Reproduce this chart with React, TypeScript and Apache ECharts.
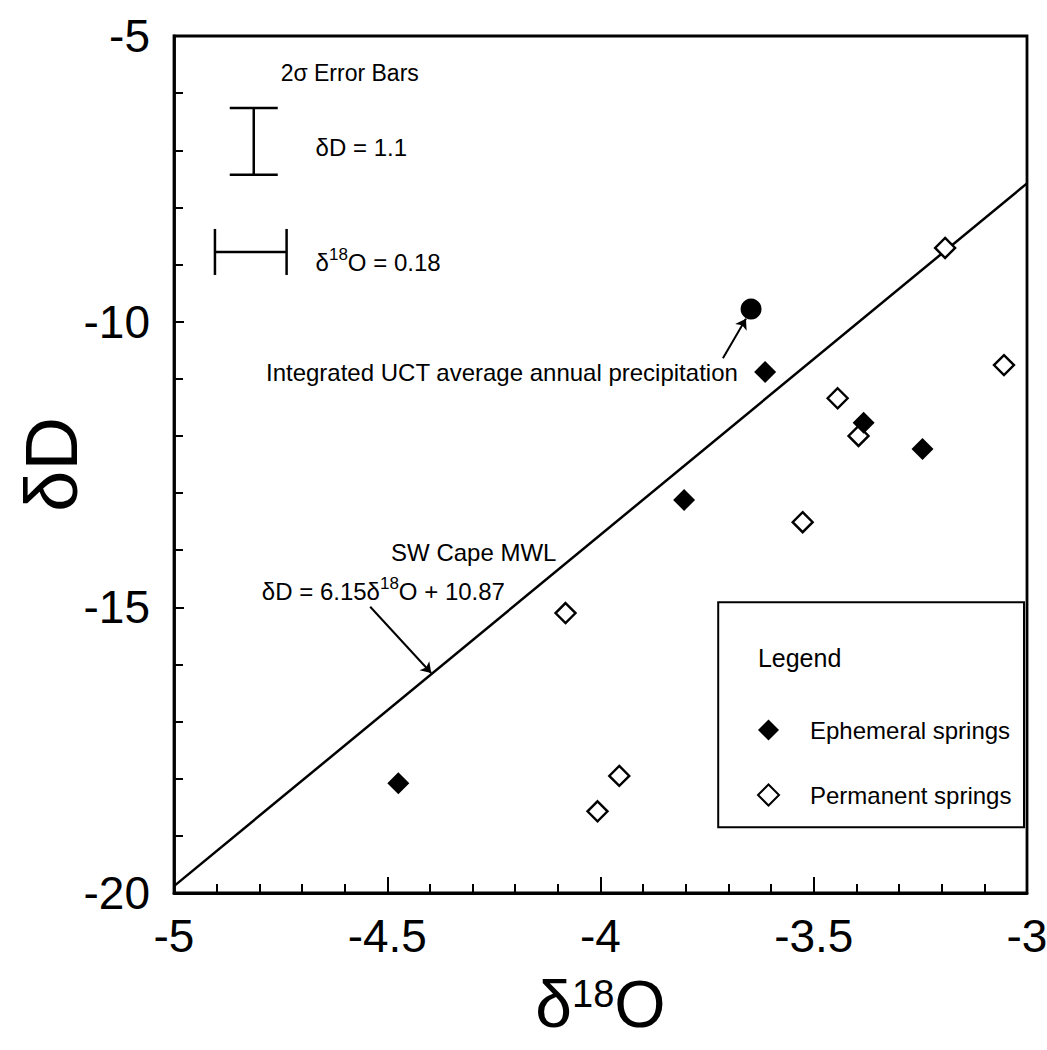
import React, { useEffect, useRef } from "react";
import * as echarts from "echarts";

// ---- data ----
const ephemeralSprings: number[][] = [
  [-3.614, -10.88],
  [-3.383, -11.77],
  [-3.245, -12.23],
  [-3.804, -13.12],
  [-4.474, -18.08],
];
const permanentSprings: number[][] = [
  [-3.192, -8.71],
  [-3.054, -10.76],
  [-3.444, -11.34],
  [-3.395, -12.0],
  [-3.526, -13.51],
  [-4.082, -15.1],
  [-3.956, -17.95],
  [-4.007, -18.57],
];
const precipitation: number[][] = [[-3.647, -9.78]];
// SW Cape MWL: dD = 6.15 d18O + 10.87, end points at the axis limits
const mwlLine: number[][] = [
  [-5, -19.88],
  [-3, -7.58],
];
// error bars: [x, y, half-width in x, half-height in y]
const errorBars: number[][] = [
  [-4.813, -6.845, 0, 0.585],
  [-4.82, -8.78, 0.084, 0],
];
const arrowLines: number[][][] = [
  [[-4.54, -14.99], [-4.397, -16.15]],
  [[-3.713, -10.64], [-3.659, -9.95]],
];
const xTicks = { min: -5, max: -3, interval: 0.5 };
const yTicks = { min: -20, max: -5, interval: 5 };

const FONT = "'Liberation Sans', Arial, Helvetica, sans-serif";

type Ann = { text: string; x: number; y: number; align: string; size: number };
const annotations: Ann[] = [
  { text: "{n|2σ Error Bars}", x: -4.75, y: -5.648, align: "left", size: 23 },
  { text: "{n|δD = 1.1}", x: -4.668, y: -6.96, align: "left", size: 24 },
  { text: "{n|δ}{s|18}{n|O = 0.18}", x: -4.668, y: -8.921, align: "left", size: 24 },
  { text: "{n|Integrated UCT average annual precipitation}", x: -3.678, y: -10.881, align: "right", size: 24 },
  { text: "{n|SW Cape MWL}", x: -4.491, y: -14.032, align: "left", size: 24 },
  { text: "{n|δD = 6.15δ}{s|18}{n|O + 10.87}", x: -4.794, y: -14.68, align: "left", size: 24 },
  { text: "{n|Legend}", x: -3.631, y: -15.887, align: "left", size: 25 },
];
const legendBox = { x0: -3.724, y0: -14.91, x1: -3.007, y1: -18.85 };

export default function App() {
  const ref = useRef<HTMLDivElement>(null);
  useEffect(() => {
    document.body.style.margin = "0";
    if (!ref.current) return;
    const chart = echarts.init(ref.current, null, { renderer: "svg" });
    const option: any = {
      animation: false,
      backgroundColor: "#fff",
      textStyle: { fontFamily: FONT, color: "#000" },
      grid: {
        left: 174,
        right: 20,
        top: 36,
        bottom: 157,
        containLabel: false,
        outerBoundsMode: "none",
        show: true,
        borderColor: "#000",
        borderWidth: 2.8,
        backgroundColor: "transparent",
      },
      legend: {
        orient: "vertical",
        left: 752,
        top: 713,
        itemWidth: 21,
        itemHeight: 21,
        itemGap: 41,
        data: ["Ephemeral springs", "Permanent springs"],
        textStyle: { fontSize: 24, fontFamily: FONT, color: "#000", padding: [0, 0, 0, 26] },
      },
      xAxis: {
        type: "value",
        min: xTicks.min,
        max: xTicks.max,
        interval: xTicks.interval,
        name: "{d|δ}{s|18}{d|O}",
        nameLocation: "middle",
        nameGap: 84,
        nameMoveOverlap: false,
        nameTextStyle: {
          rich: {
            d: { fontSize: 66, lineHeight: 60, fontFamily: FONT, color: "#000", verticalAlign: "bottom" },
            s: { fontSize: 38, lineHeight: 34, fontFamily: FONT, color: "#000", verticalAlign: "bottom", padding: [0, 0, 24, 0] },
          },
        },
        axisLine: { show: true, lineStyle: { color: "#000", width: 2.8 } },
        axisTick: { show: true, inside: true, length: 16, lineStyle: { color: "#000", width: 2 } },
        minorTick: { show: true, splitNumber: 5, length: 9, lineStyle: { color: "#000", width: 2 } },
        axisLabel: { fontSize: 46, fontFamily: FONT, color: "#000", margin: 20 },
        splitLine: { show: false },
      },
      yAxis: {
        type: "value",
        min: yTicks.min,
        max: yTicks.max,
        interval: yTicks.interval,
        name: "δD",
        nameLocation: "middle",
        nameRotate: 90,
        nameGap: 88,
        nameMoveOverlap: false,
        nameTextStyle: { fontSize: 74, lineHeight: 70, fontFamily: FONT, color: "#000" },
        axisLine: { show: true, lineStyle: { color: "#000", width: 2.8 } },
        axisTick: { show: true, inside: true, length: 10, lineStyle: { color: "#000", width: 2 } },
        minorTick: { show: true, splitNumber: 5, length: 9, lineStyle: { color: "#000", width: 2 } },
        axisLabel: { fontSize: 46, fontFamily: FONT, color: "#000", margin: 24 },
        splitLine: { show: false },
      },
      series: [
        {
          name: "SW Cape MWL",
          type: "line",
          data: mwlLine,
          showSymbol: false,
          silent: true,
          lineStyle: { color: "#000", width: 2.5 },
          z: 2,
        },
        {
          name: "Error bars",
          type: "custom",
          silent: true,
          data: errorBars,
          renderItem: (_p: any, api: any) => {
            const x = api.value(0);
            const y = api.value(1);
            const hx = api.value(2);
            const hy = api.value(3);
            const st = { stroke: "#000", lineWidth: 2.5 };
            if (hy > 0) {
              const t = api.coord([x, y + hy]);
              const b = api.coord([x, y - hy]);
              const cap = 24;
              return {
                type: "group",
                children: [
                  { type: "line", shape: { x1: t[0], y1: t[1], x2: b[0], y2: b[1] }, style: st },
                  { type: "line", shape: { x1: t[0] - cap, y1: t[1], x2: t[0] + cap, y2: t[1] }, style: st },
                  { type: "line", shape: { x1: b[0] - cap, y1: b[1], x2: b[0] + cap, y2: b[1] }, style: st },
                ],
              };
            }
            const l = api.coord([x - hx, y]);
            const r = api.coord([x + hx, y]);
            const cap = 23;
            return {
              type: "group",
              children: [
                { type: "line", shape: { x1: l[0], y1: l[1], x2: r[0], y2: r[1] }, style: st },
                { type: "line", shape: { x1: l[0], y1: l[1] - cap, x2: l[0], y2: l[1] + cap }, style: st },
                { type: "line", shape: { x1: r[0], y1: r[1] - cap, x2: r[0], y2: r[1] + cap }, style: st },
              ],
            };
          },
          z: 3,
        },
        {
          name: "Ephemeral springs",
          type: "scatter",
          data: ephemeralSprings,
          symbol: "diamond",
          symbolSize: 22,
          itemStyle: { color: "#000", opacity: 1 },
          z: 5,
        },
        {
          name: "Permanent springs",
          type: "scatter",
          data: permanentSprings,
          symbol: "diamond",
          symbolSize: 20,
          itemStyle: { color: "#fff", borderColor: "#000", borderWidth: 2.4, opacity: 1 },
          z: 4,
        },
        {
          name: "Integrated UCT average annual precipitation",
          type: "scatter",
          data: precipitation,
          symbol: "circle",
          symbolSize: 21,
          itemStyle: { color: "#000", opacity: 1 },
          z: 5,
          markLine: {
            silent: true,
            symbol: ["none", "arrow"],
            symbolSize: 10,
            lineStyle: { color: "#000", width: 2, type: "solid" },
            label: { show: false },
            data: arrowLines.map((a) => [{ coord: a[0] }, { coord: a[1] }]),
          },
        },
      ],
    };
    chart.setOption(option);

    const toPx = (p: number[]) => chart.convertToPixel({ gridIndex: 0 }, p) as number[];
    const graphics: any[] = annotations.map((a) => {
      const p = toPx([a.x, a.y]);
      return {
        type: "text",
        x: p[0],
        y: p[1],
        silent: true,
        style: {
          text: a.text,
          textAlign: a.align,
          textVerticalAlign: "middle",
          fill: "#000",
          rich: {
            n: { fontSize: a.size, fontFamily: FONT, fill: "#000", verticalAlign: "bottom" },
            s: { fontSize: 17, fontFamily: FONT, fill: "#000", verticalAlign: "bottom", padding: [0, 0, 11, 0] },
          },
        },
      };
    });
    const b0 = toPx([legendBox.x0, legendBox.y0]);
    const b1 = toPx([legendBox.x1, legendBox.y1]);
    graphics.push({
      type: "rect",
      silent: true,
      shape: { x: b0[0], y: b0[1], width: b1[0] - b0[0], height: b1[1] - b0[1] },
      style: { fill: "none", stroke: "#000", lineWidth: 2 },
    });
    chart.setOption({ graphic: graphics });

    return () => chart.dispose();
  }, []);
  return <div ref={ref} style={{ width: 1047, height: 1050 }} />;
}
